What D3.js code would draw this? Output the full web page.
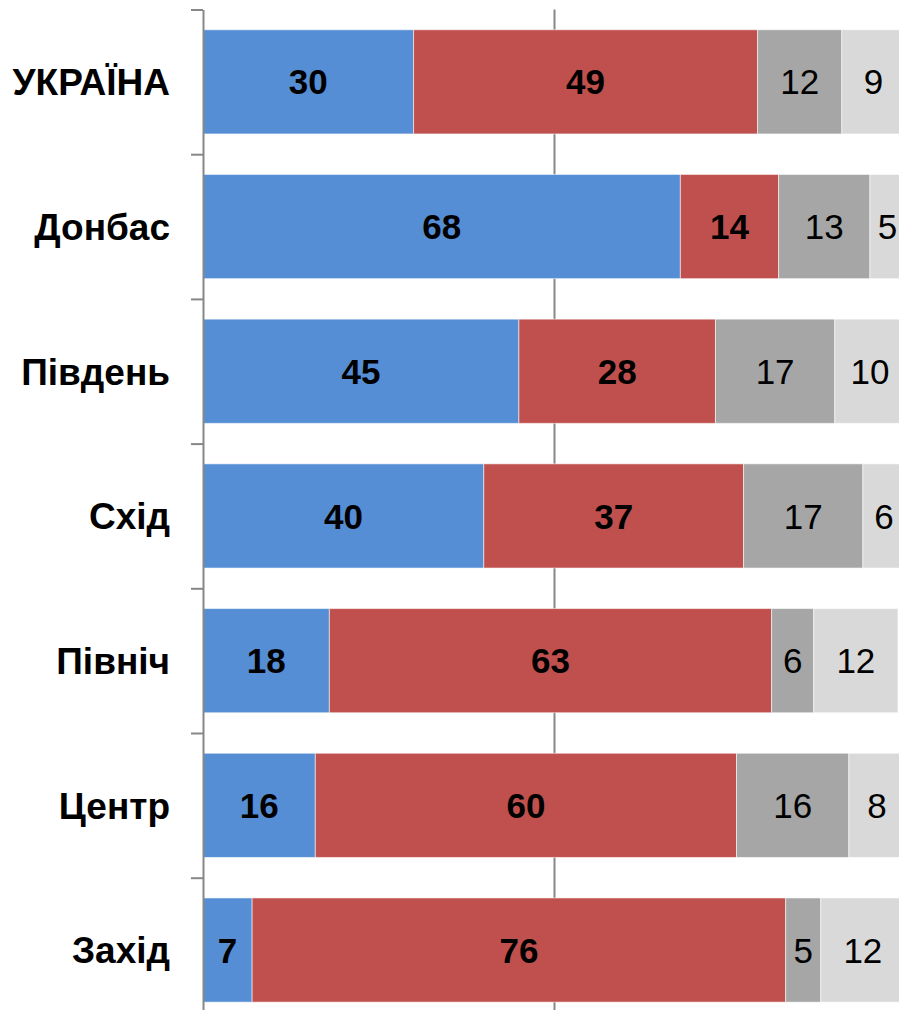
<!DOCTYPE html>
<html>
<head>
<meta charset="utf-8">
<script src="https://cdn.jsdelivr.net/npm/d3@7"></script>
<style>
  body { margin: 0; background: #fff; }
  svg { display: block; font-family: "Liberation Sans", Arial, sans-serif; }
</style>
</head>
<body>
<div id="container"></div>
<script>
/* DATA */
const regions = ["УКРАЇНА", "Донбас", "Південь", "Схід", "Північ", "Центр", "Захід"];
const seriesKeys = ["s1", "s2", "s3", "s4"];
const s1 = [30, 68, 45, 40, 18, 16, 7];
const s2 = [49, 14, 28, 37, 63, 60, 76];
const s3 = [12, 13, 17, 17, 6, 16, 5];
const s4 = [9, 5, 10, 6, 12, 8, 12];
const seriesColors = ["#558ed5", "#c0504d", "#a6a6a6", "#d9d9d9"];
const boldSeries = [true, true, false, false];

/* CONSTANTS */
const width = 899,
  height = 1010,
  margin = { top: 9.5, left: 203 },
  step = 144.7;

const rows = regions.map((r, i) => ({ region: r, s1: s1[i], s2: s2[i], s3: s3[i], s4: s4[i] }));
const stacked = d3.stack().keys(seriesKeys)(rows);

const svg = d3.select("#container")
  .append("svg")
  .attr("width", width)
  .attr("height", height);

/* SCALES */
const yRange = [margin.top, margin.top + step * regions.length];

const yScale = d3.scaleBand()
  .domain(regions)
  .range(yRange)
  .paddingInner(0.28)
  .paddingOuter(0.14);

// boundary ticks between categories
const yEdge = d3.scaleLinear()
  .domain([0, regions.length])
  .range(yRange);

const xScale = d3.scaleLinear()
  .domain([0, 100])
  .range([margin.left, margin.left + 702]);

// gridline at 50 (behind the bars)
svg.append("g")
  .attr("transform", `translate(0, ${yRange[0]})`)
  .call(d3.axisBottom(xScale).tickValues([50]).tickSize(yRange[1] - yRange[0]).tickFormat(""))
  .call(g => g.select(".domain").remove())
  .call(g => g.selectAll("line").attr("stroke", "#878787").attr("stroke-width", 2));

/* BARS */
const layers = svg.append("g")
  .selectAll("g")
  .data(stacked)
  .join("g")
  .attr("fill", (d, i) => seriesColors[i]);

layers.selectAll("rect")
  .data(d => d)
  .join("rect")
  .attr("x", d => xScale(d[0]))
  .attr("y", d => yScale(d.data.region))
  .attr("width", d => xScale(d[1]) - xScale(d[0]))
  .attr("height", yScale.bandwidth())
  .attr("stroke", "#fff")
  .attr("stroke-opacity", 0.55)
  .attr("stroke-width", 1);

layers.selectAll("text")
  .data((d, i) => d.map(v => ({ v, i })))
  .join("text")
  .attr("x", d => (xScale(d.v[0]) + xScale(d.v[1])) / 2)
  .attr("y", d => yScale(d.v.data.region) + yScale.bandwidth() / 2)
  .attr("dy", "0.36em")
  .attr("text-anchor", "middle")
  .attr("fill", "#000")
  .attr("font-size", 35)
  .attr("font-weight", d => boldSeries[d.i] ? "bold" : "normal")
  .text(d => d.v[1] - d.v[0]);

/* AXIS */
svg.append("g")
  .attr("transform", `translate(${margin.left}, 0)`)
  .call(d3.axisLeft(yEdge).tickValues(d3.range(regions.length + 1)).tickSize(12).tickSizeOuter(0).tickFormat(""))
  .call(g => g.selectAll("line, path").attr("stroke", "#878787").attr("stroke-width", 2));

svg.append("g")
  .selectAll("text")
  .data(regions)
  .join("text")
  .attr("x", 170)
  .attr("y", d => yScale(d) + yScale.bandwidth() / 2)
  .attr("dy", "0.36em")
  .attr("text-anchor", "end")
  .attr("font-size", 37)
  .attr("font-weight", "bold")
  .text(d => d);
</script>
</body>
</html>
